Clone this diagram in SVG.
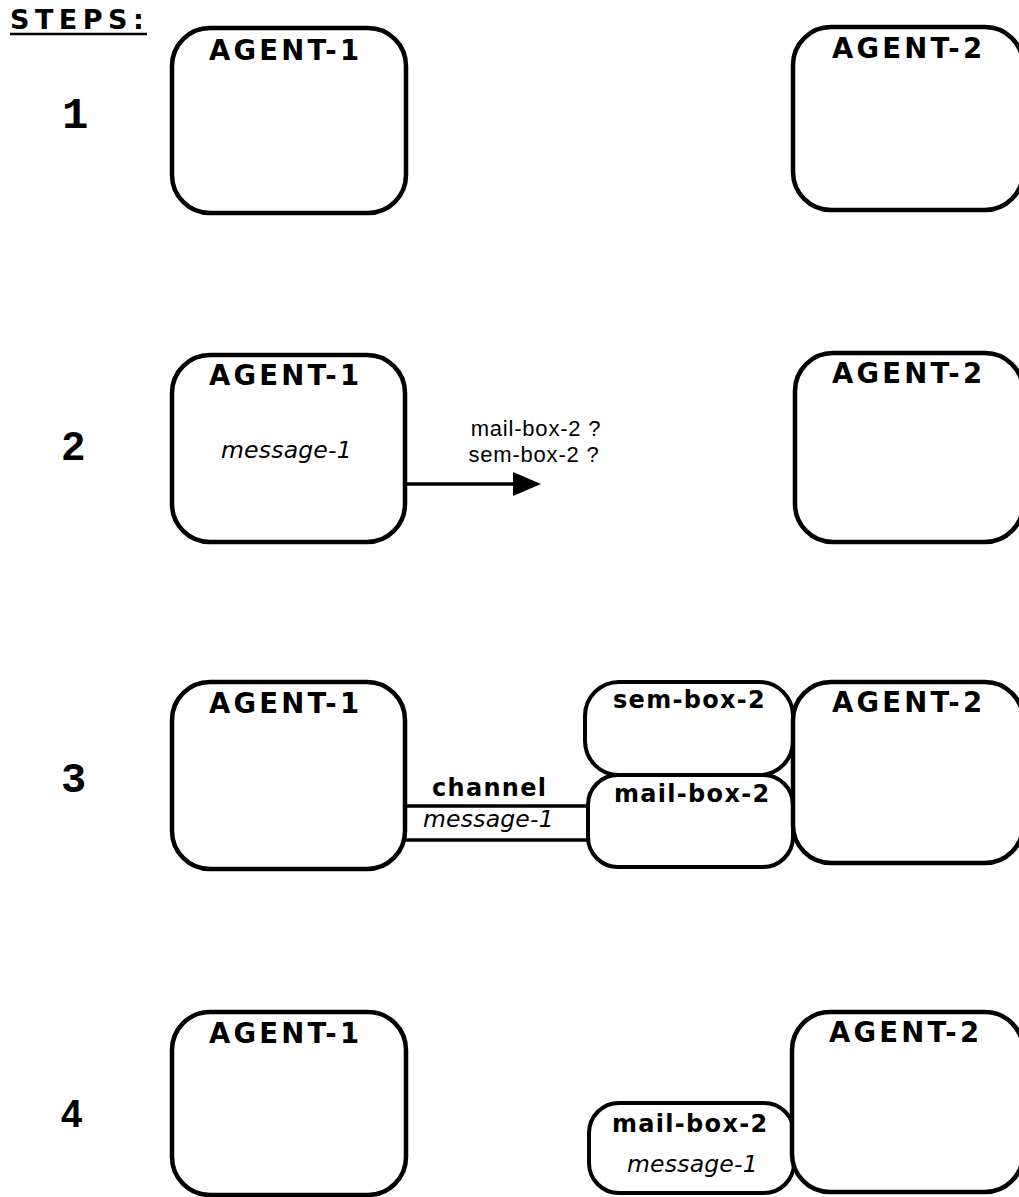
<svg xmlns="http://www.w3.org/2000/svg" width="1019" height="1197" viewBox="0 0 1019 1197">
<defs>
<style>
.box{fill:#fff;stroke:#000;stroke-width:4.5}
.sbox{fill:#fff;stroke:#000;stroke-width:4}
.lbl{font-family:"DejaVu Sans","Liberation Sans",Arial,sans-serif;font-weight:bold;font-size:27.5px;letter-spacing:3.2px;fill:#000}
.slbl{font-family:"DejaVu Sans","Liberation Sans",Arial,sans-serif;font-weight:bold;font-size:24px;letter-spacing:1.3px;fill:#000}
.msg{font-family:"DejaVu Sans","Liberation Sans",Arial,sans-serif;font-style:italic;font-size:23.5px;letter-spacing:0.2px;fill:#000}
.q{font-family:"Liberation Sans",Arial,sans-serif;font-size:22px;letter-spacing:0.8px;fill:#000}
.num{font-weight:bold;fill:#000}
.line{stroke:#000;stroke-width:3.5;fill:none}
</style>
<marker id="arr" markerWidth="10" markerHeight="10" refX="0" refY="5" orient="auto" markerUnits="userSpaceOnUse" viewBox="0 0 10 10" overflow="visible">
<path d="M0,-7 L28,5 L0,17 Z" fill="#000"/>
</marker>
</defs>
<rect width="1019" height="1197" fill="#fff"/>

<g id="title">
<text x="10" y="29" font-family="DejaVu Sans,Liberation Sans,Arial,sans-serif" font-weight="bold" font-size="27" letter-spacing="5.5">STEPS:</text>
<line x1="10" y1="34" x2="147" y2="34" stroke="#000" stroke-width="2.5"/>
</g>

<g id="step-numbers">
<text class="num" x="62" y="128" font-family="Liberation Mono,Courier New,monospace" font-size="44">1</text>
<text class="num" x="62" y="460" font-family="Liberation Sans,Arial,sans-serif" font-size="41">2</text>
<text class="num" x="61" y="792" font-family="Liberation Mono,Courier New,monospace" font-size="42">3</text>
<text class="num" x="61" y="1127" font-family="Liberation Sans,Arial,sans-serif" font-size="38">4</text>
</g>

<g id="connectors">
<line class="line" x1="405" y1="484" x2="513" y2="484" marker-end="url(#arr)"/>
<line class="line" x1="405" y1="806" x2="592" y2="806"/>
<line class="line" x1="405" y1="840" x2="592" y2="840"/>
</g>

<!-- Step 1 -->
<g id="s1-agent1">
<rect class="box" x="172" y="28" width="234" height="185" rx="38" ry="38"/>
<text class="lbl" x="209" y="60">AGENT-1</text>
</g>
<g id="s1-agent2">
<rect class="box" x="793" y="27" width="230" height="183" rx="38" ry="38"/>
<text class="lbl" x="832" y="58">AGENT-2</text>
</g>

<!-- Step 2 -->
<g id="s2-agent1">
<rect class="box" x="172" y="355" width="233" height="187" rx="38" ry="38"/>
<text class="lbl" x="209" y="385">AGENT-1</text>
<text class="msg" x="221" y="458">message-1</text>
</g>
<g id="s2-query">
<text class="q" x="536" y="436" text-anchor="middle">mail-box-2 ?</text>
<text class="q" x="534" y="462" text-anchor="middle">sem-box-2 ?</text>
</g>
<g id="s2-agent2">
<rect class="box" x="795" y="353" width="228" height="189" rx="38" ry="38"/>
<text class="lbl" x="832" y="383">AGENT-2</text>
</g>

<!-- Step 3 -->
<g id="s3-agent1">
<rect class="box" x="172" y="682" width="233" height="187" rx="38" ry="38"/>
<text class="lbl" x="209" y="713">AGENT-1</text>
</g>
<g id="s3-channel">
<text class="slbl" x="432" y="796">channel</text>
<text class="msg" x="423" y="827">message-1</text>
</g>
<g id="s3-sembox2">
<rect class="sbox" x="585" y="682" width="208" height="93" rx="34" ry="34"/>
<text class="slbl" x="613" y="708">sem-box-2</text>
</g>
<g id="s3-mailbox2">
<rect class="sbox" x="588" y="775" width="205" height="92" rx="30" ry="30"/>
<text class="slbl" x="614" y="802">mail-box-2</text>
</g>
<g id="s3-agent2">
<rect class="box" x="793" y="682" width="230" height="181" rx="38" ry="38"/>
<text class="lbl" x="832" y="712">AGENT-2</text>
</g>

<!-- Step 4 -->
<g id="s4-agent1">
<rect class="box" x="172" y="1012" width="234" height="183" rx="38" ry="38"/>
<text class="lbl" x="209" y="1043">AGENT-1</text>
</g>
<g id="s4-mailbox2">
<rect class="sbox" x="589" y="1103" width="205" height="90" rx="30" ry="30"/>
<text class="slbl" x="612" y="1132">mail-box-2</text>
<text class="msg" x="627" y="1172">message-1</text>
</g>
<g id="s4-agent2">
<rect class="box" x="792" y="1012" width="231" height="180" rx="38" ry="38"/>
<text class="lbl" x="829" y="1042">AGENT-2</text>
</g>
</svg>
